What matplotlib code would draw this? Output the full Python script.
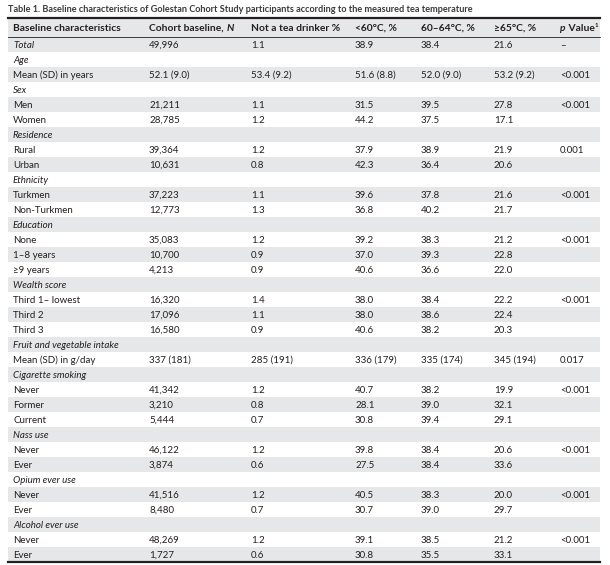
import matplotlib
matplotlib.use("Agg")
import matplotlib.pyplot as plt

plt.rcParams['font.family'] = ['Lato', 'DejaVu Sans']

title = "Table 1. Baseline characteristics of Golestan Cohort Study participants according to the measured tea temperature"

columns = ["Baseline characteristics", "Cohort baseline, N", "Not a tea drinker %",
           "<60°C, %", "60–64°C, %", "≥65°C, %", "p Value"]

row_labels = ["Total", "Age", "Mean (SD) in years", "Sex", "Men", "Women",
              "Residence", "Rural", "Urban", "Ethnicity", "Turkmen", "Non-Turkmen",
              "Education", "None", "1–8 years", "≥9 years",
              "Wealth score", "Third 1– lowest", "Third 2", "Third 3",
              "Fruit and vegetable intake", "Mean (SD) in g/day",
              "Cigarette smoking", "Never", "Former", "Current",
              "Nass use", "Never", "Ever",
              "Opium ever use", "Never", "Ever",
              "Alcohol ever use", "Never", "Ever"]

italic_rows = ["Total", "Age", "Sex", "Residence", "Ethnicity", "Education",
               "Wealth score", "Fruit and vegetable intake", "Cigarette smoking",
               "Nass use", "Opium ever use", "Alcohol ever use"]

cohort_n = ["49,996", "", "52.1 (9.0)", "", "21,211", "28,785",
            "", "39,364", "10,631", "", "37,223", "12,773",
            "", "35,083", "10,700", "4,213",
            "", "16,320", "17,096", "16,580",
            "", "337 (181)",
            "", "41,342", "3,210", "5,444",
            "", "46,122", "3,874",
            "", "41,516", "8,480",
            "", "48,269", "1,727"]

not_tea = ["1.1", "", "53.4 (9.2)", "", "1.1", "1.2",
           "", "1.2", "0.8", "", "1.1", "1.3",
           "", "1.2", "0.9", "0.9",
           "", "1.4", "1.1", "0.9",
           "", "285 (191)",
           "", "1.2", "0.8", "0.7",
           "", "1.2", "0.6",
           "", "1.2", "0.7",
           "", "1.2", "0.6"]

lt60 = ["38.9", "", "51.6 (8.8)", "", "31.5", "44.2",
        "", "37.9", "42.3", "", "39.6", "36.8",
        "", "39.2", "37.0", "40.6",
        "", "38.0", "38.0", "40.6",
        "", "336 (179)",
        "", "40.7", "28.1", "30.8",
        "", "39.8", "27.5",
        "", "40.5", "30.7",
        "", "39.1", "30.8"]

t60_64 = ["38.4", "", "52.0 (9.0)", "", "39.5", "37.5",
          "", "38.9", "36.4", "", "37.8", "40.2",
          "", "38.3", "39.3", "36.6",
          "", "38.4", "38.6", "38.2",
          "", "335 (174)",
          "", "38.2", "39.0", "39.4",
          "", "38.4", "38.4",
          "", "38.3", "39.0",
          "", "38.5", "35.5"]

ge65 = ["21.6", "", "53.2 (9.2)", "", "27.8", "17.1",
        "", "21.9", "20.6", "", "21.6", "21.7",
        "", "21.2", "22.8", "22.0",
        "", "22.2", "22.4", "20.3",
        "", "345 (194)",
        "", "19.9", "32.1", "29.1",
        "", "20.6", "33.6",
        "", "20.0", "29.7",
        "", "21.2", "33.1"]

p_values = ["–", "", "<0.001", "", "<0.001", "",
            "", "0.001", "", "", "<0.001", "",
            "", "<0.001", "", "",
            "", "<0.001", "", "",
            "", "0.017",
            "", "<0.001", "", "",
            "", "<0.001", "",
            "", "<0.001", "",
            "", "<0.001", ""]

W, H = 610, 565
fig = plt.figure(figsize=(W / 100, H / 100), dpi=100)
ax = fig.add_axes([0, 0, 1, 1])
ax.set_xlim(0, W)
ax.set_ylim(H, 0)
ax.axis("off")

left, right = 8, 600
col_x = [13, 149, 251, 355, 421, 494, 560]
head_top, head_bot, row_h = 18, 37, 15
fs = 7
hfs = 7.4
grey = "#e6e7e8"
ink = "#231f20"

ax.text(left, 12, title, fontsize=6.6, fontweight="bold", color="#3a3a3a", va="baseline")

# header
ax.fill_between([left, right], head_top, head_bot, color=grey, lw=0)
ax.plot([left, right], [head_top, head_top], color=ink, lw=1.6)
ax.plot([left, right], [head_bot, head_bot], color=ink, lw=0.6)
yh = head_bot - 6
for i, c in enumerate(columns):
    if i == 1:
        t = ax.text(col_x[i], yh, "Cohort baseline, ", fontsize=hfs, fontweight="bold", color=ink, va="baseline")
        ax.annotate("N", xycoords=t, xy=(1, 0), va="bottom", fontsize=hfs,
                    fontweight="bold", style="italic", color=ink)
    elif i == 6:
        t = ax.text(col_x[i], yh, "p", fontsize=hfs, fontweight="bold", style="italic", color=ink, va="baseline")
        t2 = ax.annotate(" Value", xycoords=t, xy=(1, 0), va="bottom", fontsize=hfs,
                         fontweight="bold", color=ink)
        ax.annotate("1", xycoords=t2, xy=(1, 0.55), va="bottom", fontsize=hfs * 0.6,
                    fontweight="bold", color=ink)
    else:
        ax.text(col_x[i], yh, c, fontsize=hfs, fontweight="bold", color=ink, va="baseline")

# body
cols = [cohort_n, not_tea, lt60, t60_64, ge65, p_values]
for r, lab in enumerate(row_labels):
    top = head_bot + r * row_h
    if r % 2 == 0:
        ax.fill_between([left, right], top, top + row_h, color=grey, lw=0)
    yb = top + row_h - 4
    heading = lab in italic_rows and not cohort_n[r] or lab == "Total"
    ax.text(col_x[0], yb, lab, fontsize=fs, color=ink, va="baseline",
            style="italic" if heading else "normal")
    for j, col in enumerate(cols):
        if col[r]:
            ax.text(col_x[j + 1], yb, col[r], fontsize=fs, color=ink, va="baseline")

bottom = head_bot + len(row_labels) * row_h
ax.plot([left, right], [bottom, bottom], color=ink, lw=1.6)

fig.savefig("out.png", dpi=100)
